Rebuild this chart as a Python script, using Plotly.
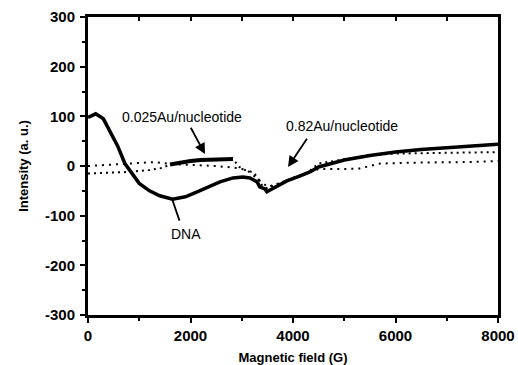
import plotly.graph_objects as go

# Magnetic field (G) and intensity (a. u.)
dna_x = [0, 150, 300, 430, 580, 720, 850, 1000, 1200, 1400, 1650, 1900, 2130, 2350, 2575,
         2830, 3020, 3160, 3300, 3350, 3450, 3490, 3690, 3880, 4140, 4330, 4500, 5000,
         5500, 6000, 6500, 7000, 7500, 8000]
dna_y = [98, 105, 95, 70, 40, 5, -15, -35, -50, -60, -67, -62, -52, -42, -32,
         -24, -22, -24, -32, -42, -46, -52, -40, -30, -20, -12, -2, 12,
         21, 28, 33, 37, 41, 44]

au025_x = [0, 400, 800, 1200, 1450, 1600, 1800, 2000, 2200, 2400, 2600, 2830,
           2950, 3100, 3220, 3300, 3400, 3500, 3700, 4000, 4300, 4500, 5000, 5500,
           6000, 7000, 8000]
au025_y = [-15, -14, -12, -8, -4, 3, 7, 10, 12, 13, 14, 14,
           -2, -10, -12, -22, -40, -45, -36, -24, -12, 5, 14, 22,
           25, 27, 28]

au082_x = [0, 500, 1000, 1300, 1600, 2000, 2500, 2900, 3100, 3300, 3500, 3700,
           4000, 4300, 4500, 5000, 5300, 5700, 6500, 7500, 8000]
au082_y = [0, 3, 6, 8, 4, 2, 0, -4, -8, -25, -42, -36,
           -26, -14, -6, -6, -5, 5, 7, 8, 10]

x_ticks = [0, 2000, 4000, 6000, 8000]
y_ticks = [-300, -200, -100, 0, 100, 200, 300]

fig = go.Figure()
fig.add_trace(go.Scatter(x=au082_x, y=au082_y, mode="lines",
                         line=dict(color="black", width=2, dash="2px,5px"),
                         showlegend=False, hoverinfo="skip"))
fig.add_trace(go.Scatter(x=au025_x, y=au025_y, mode="lines",
                         line=dict(color="black", width=2, dash="2px,4px"),
                         showlegend=False, hoverinfo="skip"))
fig.add_trace(go.Scatter(x=au025_x[5:12], y=au025_y[5:12], mode="lines",
                         line=dict(color="black", width=4),
                         showlegend=False, hoverinfo="skip"))
fig.add_trace(go.Scatter(x=dna_x, y=dna_y, mode="lines",
                         line=dict(color="black", width=3.5),
                         showlegend=False, hoverinfo="skip"))
# invisible trace for top axis
fig.add_trace(go.Scatter(x=[0, 8000], y=[0, 0], xaxis="x2", mode="lines",
                         line=dict(width=0), showlegend=False, hoverinfo="skip"))

tickfont = dict(family="Liberation Sans, Arial", size=15, color="black")
titlefont = dict(family="Liberation Sans, Arial", size=13, color="black", weight="bold")
fig.update_layout(
    width=518, height=365,
    margin=dict(l=88, r=20, t=17, b=50, autoexpand=False),
    paper_bgcolor="white", plot_bgcolor="white",
    xaxis=dict(range=[0, 8000], tickvals=x_ticks, ticktext=[f"<b>{v}</b>" for v in x_ticks],
               ticks="outside", ticklen=5, tickwidth=2, tickcolor="black",
               minor=dict(dtick=1000, ticks="outside", ticklen=3, tickwidth=2, tickcolor="black"),
               showline=True, linewidth=3, linecolor="black", mirror=True, automargin=False,
               showgrid=False, zeroline=False, tickfont=tickfont, ticklabelstandoff=0,
               title=dict(text="Magnetic field (G)", standoff=10, font=titlefont)),
    xaxis2=dict(range=[0, 8000], overlaying="x", side="top",
                tickvals=[1000, 2000, 3000, 4000, 5000, 6000, 7000],
                ticks="inside", ticklen=4, tickwidth=2, tickcolor="black", showticklabels=False,
                showgrid=False, zeroline=False, showline=False, automargin=False),
    yaxis=dict(range=[-300, 300], tickvals=y_ticks, ticktext=[f"<b>{v}</b>" for v in y_ticks],
               ticks="outside", ticklen=5, tickwidth=2, tickcolor="black",
               minor=dict(dtick=50, ticks="outside", ticklen=3, tickwidth=2, tickcolor="black"),
               showline=True, linewidth=3, linecolor="black", mirror=True, automargin=False,
               showgrid=False, zeroline=False, tickfont=tickfont, ticklabelstandoff=2,
               title=dict(text="Intensity (a. u.)", standoff=14, font=titlefont)),
)

afont = dict(family="Liberation Sans, Arial", size=14, color="black")
fig.add_annotation(x=1834, y=99, text="0.025Au/nucleotide", showarrow=False, font=afont)
fig.add_annotation(x=4956, y=80, text="0.82Au/nucleotide", showarrow=False, font=afont)
fig.add_annotation(x=1912, y=-137, text="DNA", showarrow=False, font=afont)
fig.add_annotation(x=2283, y=24, ax=1990, ay=80, axref="x", ayref="y", text="",
                   showarrow=True, arrowhead=2, arrowsize=1.2, arrowwidth=1.8, arrowcolor="black")
fig.add_annotation(x=3902, y=-2, ax=4292, ay=58, axref="x", ayref="y", text="",
                   showarrow=True, arrowhead=2, arrowsize=1.2, arrowwidth=1.8, arrowcolor="black")
fig.add_annotation(x=1639, y=-66, ax=1795, ay=-113, axref="x", ayref="y", text="",
                   showarrow=True, arrowhead=0, arrowwidth=1.8, arrowcolor="black")

fig.write_html("out.html", config={"displayModeBar": False},
               post_script="document.body.style.margin='0';")
